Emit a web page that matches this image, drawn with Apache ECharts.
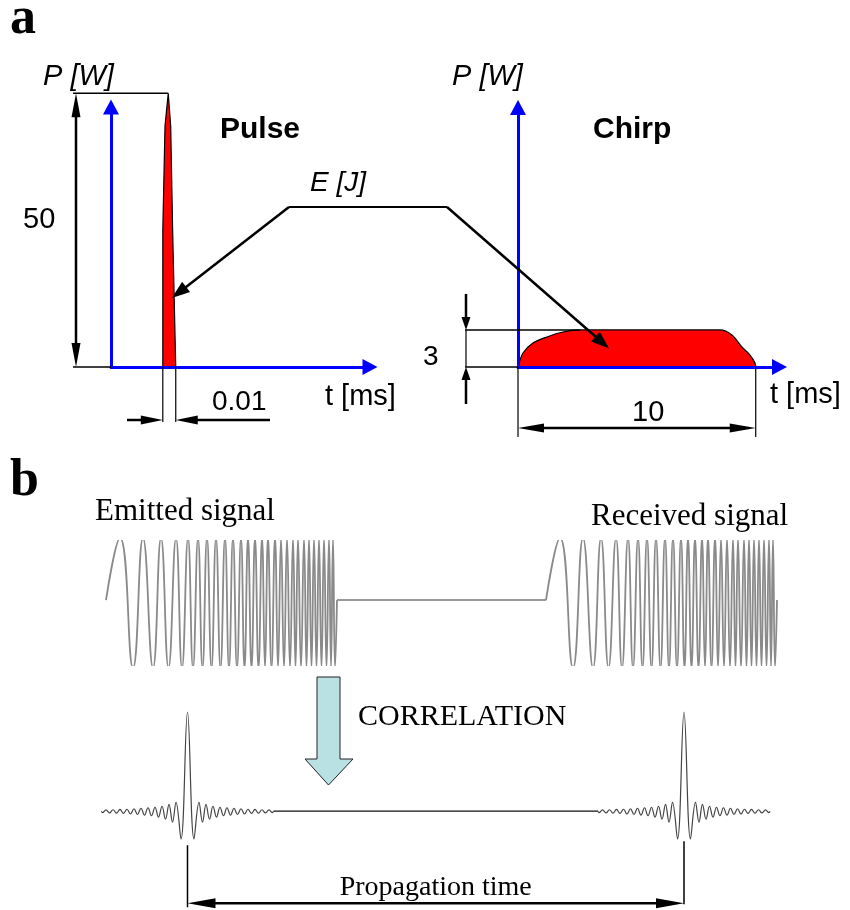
<!DOCTYPE html>
<html>
<head>
<meta charset="utf-8">
<script src="https://cdn.jsdelivr.net/npm/echarts@6/dist/echarts.min.js"></script>
<style>
  html, body { margin: 0; padding: 0; background: #ffffff; }
  #chart { width: 850px; height: 910px; }
</style>
</head>
<body>
<div id="chart"></div>
<script>
// ---- Panel a, left: short pulse (time in ms, power in W) ----
const pulseTime  = [0.040, 0.040, 0.0417, 0.0442, 0.0461, 0.0476, 0.050];
const pulsePower = [0, 25, 44, 50, 44, 25, 0];
const pulsePeakTime = 0.0442;
const pulsePeakPower = 50;
const pulseStart = 0.040;
const pulseEnd = 0.050;

// ---- Panel a, right: chirp envelope (time in ms, power in W) ----
const chirpTime  = [0, 0.21, 0.63, 1.22, 1.89, 2.61, 8.5, 9.0, 9.42, 9.76, 9.97, 10];
const chirpPower = [0, 1.13, 1.94, 2.43, 2.83, 3.0, 3.0, 2.59, 1.62, 0.97, 0.32, 0];
const chirpLevel = 3;
const chirpDuration = 10;

// ---- Panel b: emitted chirp waveform (sample index) ----
const emittedStart = 6;
const emittedEnd = 237;
const emittedCrests  = [20, 43, 61, 76, 88, 98, 107, 116, 125, 133, 141, 148, 155, 162, 168, 175,
                        181, 187, 193, 198, 204, 209, 214, 219, 224, 229, 233];
const emittedTroughs = [33, 53, 68.5, 82, 93, 102.5, 111.5, 120.5, 129, 137, 144.5, 151.5, 158.5,
                        165, 171.5, 178, 184, 190, 195.5, 201, 206.5, 211.5, 216.5, 221.5, 226.5, 231, 235];
const crestLevel = 1.05;
const troughLevel = -1.15;
const echoDelay = 440;

// ---- Panel b: correlation output ----
const corrPeakLags = [87.5, 584];
const lobeOffsets = [0, 6.5, 11.5, 15, 18.5, 22, 25.5, 29, 32.5, 36, 39.5, 43, 46.5, 50,
                     53.5, 57, 60.5, 64, 67.5, 71, 74.5, 78, 81.5, 85, 86];
const lobeValues  = [1, -0.28, 0.09, -0.11, 0.07, -0.08, 0.05, -0.06, 0.04, -0.045, 0.035, -0.04,
                     0.03, -0.033, 0.025, -0.028, 0.02, -0.022, 0.018, -0.02, 0.015, -0.017, 0.013, -0.014, 0];

// ---------------------------------------------------------------
const SANS = "'Liberation Sans', Arial, sans-serif";
const SERIF = "'Liberation Serif', 'Times New Roman', serif";
const BLUE = '#0000ff';

function zip(xs, ys) { return xs.map((x, i) => [x, ys[i]]); }

function chirpTrace(shift) {
  const ext = emittedCrests.map(x => [x, crestLevel])
    .concat(emittedTroughs.map(x => [x, troughLevel]))
    .sort((a, b) => a[0] - b[0]);
  const pts = [[emittedStart + shift, 0]];
  ext.forEach(p => pts.push([p[0] + shift, p[1]]));
  pts.push([emittedEnd + shift, 0]);
  return pts;
}

function lobeTrace(center) {
  const pts = [];
  for (let i = lobeOffsets.length - 1; i > 0; i--) pts.push([center - lobeOffsets[i], lobeValues[i]]);
  for (let i = 0; i < lobeOffsets.length; i++) pts.push([center + lobeOffsets[i], lobeValues[i]]);
  return pts;
}

function arrowAxis(gridIndex, min, max) {
  return {
    gridIndex, type: 'value', min, max, z: 5,
    axisLine: {
      show: true, onZero: false,
      symbol: ['none', 'triangle'], symbolSize: [16, 15],
      lineStyle: { color: BLUE, width: 3 }
    },
    axisTick: { show: false }, axisLabel: { show: false }, splitLine: { show: false }
  };
}
function hiddenAxis(gridIndex, min, max) {
  return { gridIndex, type: 'value', min, max, show: false, splitLine: { show: false } };
}

const lastLobe = lobeOffsets[lobeOffsets.length - 1];

const option = {
  animation: false,
  backgroundColor: '#ffffff',
  grid: [
    { left: 111, top: 107, width: 259, height: 260 },
    { left: 518, top: 107.5, width: 261.5, height: 259.5 },
    { left: 100, top: 541, width: 690, height: 124 },
    { left: 100, top: 712, width: 675, height: 128 }
  ],
  xAxis: [
    arrowAxis(0, 0, 0.2),
    arrowAxis(1, 0, 11),
    hiddenAxis(2, 0, 690),
    hiddenAxis(3, 0, 675)
  ],
  yAxis: [
    arrowAxis(0, 0, 47.5),
    arrowAxis(1, 0, 21),
    hiddenAxis(2, -1.1, 1.0),
    hiddenAxis(3, -0.29, 1)
  ],
  series: [
    {
      name: 'Pulse', type: 'line', xAxisIndex: 0, yAxisIndex: 0,
      data: zip(pulseTime, pulsePower), symbol: 'none', clip: false, z: 2,
      lineStyle: { color: '#000', width: 1.2 },
      areaStyle: { color: '#ff0000', opacity: 1 }
    },
    {
      name: 'Chirp', type: 'line', xAxisIndex: 1, yAxisIndex: 1,
      data: zip(chirpTime, chirpPower), symbol: 'none', smooth: 0.3, z: 2,
      lineStyle: { color: '#000', width: 1.2 },
      areaStyle: { color: '#ff0000', opacity: 1 }
    },
    {
      name: 'Emitted signal', type: 'line', xAxisIndex: 2, yAxisIndex: 2,
      data: chirpTrace(0), symbol: 'none', smooth: 0.5,
      lineStyle: { color: '#8a8a8a', width: 1.8 }
    },
    {
      name: 'Silence', type: 'line', xAxisIndex: 2, yAxisIndex: 2,
      data: [[emittedEnd, 0], [emittedStart + echoDelay, 0]], symbol: 'none',
      lineStyle: { color: '#9a9a9a', width: 2 }
    },
    {
      name: 'Received signal', type: 'line', xAxisIndex: 2, yAxisIndex: 2,
      data: chirpTrace(echoDelay), symbol: 'none', smooth: 0.5,
      lineStyle: { color: '#8a8a8a', width: 1.8 }
    },
    {
      name: 'Correlation 1', type: 'line', xAxisIndex: 3, yAxisIndex: 3,
      data: lobeTrace(corrPeakLags[0]), symbol: 'none', smooth: 0.4, clip: false,
      lineStyle: { color: '#444', width: 1.2 }
    },
    {
      name: 'Correlation baseline', type: 'line', xAxisIndex: 3, yAxisIndex: 3,
      data: [[corrPeakLags[0] + lastLobe, 0], [corrPeakLags[1] - lastLobe, 0]], symbol: 'none',
      lineStyle: { color: '#111', width: 1.2 }
    },
    {
      name: 'Correlation 2', type: 'line', xAxisIndex: 3, yAxisIndex: 3,
      data: lobeTrace(corrPeakLags[1]), symbol: 'none', smooth: 0.4, clip: false,
      lineStyle: { color: '#444', width: 1.2 }
    }
  ]
};

const chart = echarts.init(document.getElementById('chart'), null, { renderer: 'canvas' });
chart.setOption(option);

// ---------- annotation layer (dimension lines, arrows, labels) ----------
function px(grid, pt) { return chart.convertToPixel({ xAxisIndex: grid, yAxisIndex: grid }, pt); }

function seg(x1, y1, x2, y2, w) {
  return { type: 'line', z: 20, shape: { x1, y1, x2, y2 }, style: { stroke: '#000', lineWidth: w || 1.3 } };
}
function head(tx, ty, fx, fy, len, hw) {
  const dx = tx - fx, dy = ty - fy, d = Math.hypot(dx, dy), ux = dx / d, uy = dy / d;
  const bx = tx - ux * len, by = ty - uy * len;
  return {
    type: 'polygon', z: 21,
    shape: { points: [[tx, ty], [bx - uy * hw, by + ux * hw], [bx + uy * hw, by - ux * hw]] },
    style: { fill: '#000' }
  };
}
function arrow(fx, fy, tx, ty, w, len, hw) {
  const dx = tx - fx, dy = ty - fy, d = Math.hypot(dx, dy), ux = dx / d, uy = dy / d;
  return [seg(fx, fy, tx - ux * len * 0.5, ty - uy * len * 0.5, w), head(tx, ty, fx, fy, len, hw)];
}
function dblArrow(x1, y1, x2, y2, w, len, hw) {
  const dx = x2 - x1, dy = y2 - y1, d = Math.hypot(dx, dy), ux = dx / d, uy = dy / d;
  return [
    seg(x1 + ux * len * 0.5, y1 + uy * len * 0.5, x2 - ux * len * 0.5, y2 - uy * len * 0.5, w),
    head(x1, y1, x2, y2, len, hw), head(x2, y2, x1, y1, len, hw)
  ];
}
function label(str, x, y, font, align) {
  return {
    type: 'text', z: 22, x, y,
    style: {
      text: str, font, fill: '#000',
      align: align || 'left', verticalAlign: 'middle',
      textAlign: align || 'left', textVerticalAlign: 'middle'
    }
  };
}

const els = [];

// panel a, left
const o0 = px(0, [0, 0]);
const pk = px(0, [pulsePeakTime, pulsePeakPower]);
const ps = px(0, [pulseStart, 0]);
const pe = px(0, [pulseEnd, 0]);
els.push(seg(73, pk[1], pk[0], pk[1], 1.4));
els.push(seg(73, o0[1], o0[0], o0[1], 1.4));
els.push(...dblArrow(76, pk[1], 76, o0[1], 2.5, 24, 4.5));
els.push(seg(ps[0], ps[1], ps[0], ps[1] + 55, 1.2));
els.push(seg(pe[0], pe[1], pe[0], pe[1] + 55, 1.2));
els.push(...arrow(127, ps[1] + 53, ps[0], ps[1] + 53, 2.5, 22, 4.5));
els.push(...arrow(270, pe[1] + 53, pe[0], pe[1] + 53, 2.5, 22, 4.5));

// panel a, right
const o1 = px(1, [0, 0]);
const cTop = px(1, [0, chirpLevel]);
const cFlat = px(1, [2.61, chirpLevel]);
const cEnd = px(1, [chirpDuration, 0]);
els.push(seg(465, cTop[1], cFlat[0], cTop[1], 1.4));
els.push(seg(465, o1[1], o1[0], o1[1], 1.4));
els.push(seg(466, cTop[1], 466, o1[1], 1.2));
els.push(...arrow(466, cTop[1] - 36, 466, cTop[1], 2.5, 13, 4.5));
els.push(...arrow(466, o1[1] + 37, 466, o1[1], 2.5, 13, 4.5));
els.push(seg(o1[0], o1[1], o1[0], o1[1] + 70, 1.2));
els.push(seg(cEnd[0], cEnd[1], cEnd[0], cEnd[1] + 70, 1.2));
els.push(...dblArrow(o1[0], o1[1] + 61, cEnd[0], cEnd[1] + 61, 2.5, 26, 4.5));

// energy pointers
const eL = px(0, [0.047, 12.6]);
const eR = px(1, [3.83, 1.5]);
els.push(seg(289, 207, 447, 207, 2.2));
els.push(...arrow(289, 207, eL[0], eL[1], 2.5, 18, 6.5));
els.push(...arrow(447, 207, eR[0], eR[1], 2.5, 18, 6.5));

// panel b: correlation arrow
els.push({
  type: 'polygon', z: 20,
  shape: { points: [[317, 677], [340, 677], [340, 759], [353, 759], [328.5, 785], [305, 759], [317, 759]] },
  style: { fill: '#b9e0e3', stroke: '#222', lineWidth: 1 }
});

// panel b: propagation time
const c1 = px(3, [corrPeakLags[0], 0]);
const c2 = px(3, [corrPeakLags[1], 0]);
els.push(seg(c1[0], c1[1] + 34, c1[0], c1[1] + 96, 1.5));
els.push(seg(c2[0], c2[1] + 30, c2[0], c2[1] + 93, 1.5));
els.push(...dblArrow(c1[0], c1[1] + 92, c2[0], c2[1] + 92, 2.5, 28, 5));

// labels
els.push(label('a', 10, 20, 'bold 52px ' + SERIF));
els.push(label('b', 10, 482, 'bold 52px ' + SERIF));
els.push(label('P [W]', 43, 77, 'italic 29px ' + SANS));
els.push(label('P [W]', 452, 77, 'italic 29px ' + SANS));
els.push(label('Pulse', 220, 130, 'bold 30px ' + SANS));
els.push(label('Chirp', 593, 130, 'bold 30px ' + SANS));
els.push(label('E [J]', 310, 183, 'italic 28px ' + SANS));
els.push(label('50', 23, 220, '29px ' + SANS));
els.push(label('t [ms]', 325, 397, '29px ' + SANS));
els.push(label('t [ms]', 770, 395, '29px ' + SANS));
els.push(label('0.01', 212, 402, '28px ' + SANS));
els.push(label('3', 423, 357, '28px ' + SANS));
els.push(label('10', 632, 413, '29px ' + SANS));
els.push(label('Emitted signal', 95, 512, '31px ' + SERIF));
els.push(label('Received signal', 591, 517, '31px ' + SERIF));
els.push(label('CORRELATION', 358, 717, '30px ' + SERIF));
els.push(label('Propagation time', (c1[0] + c2[0]) / 2, 888, '28px ' + SERIF, 'center'));

chart.setOption({ graphic: { elements: els } });
</script>
</body>
</html>
